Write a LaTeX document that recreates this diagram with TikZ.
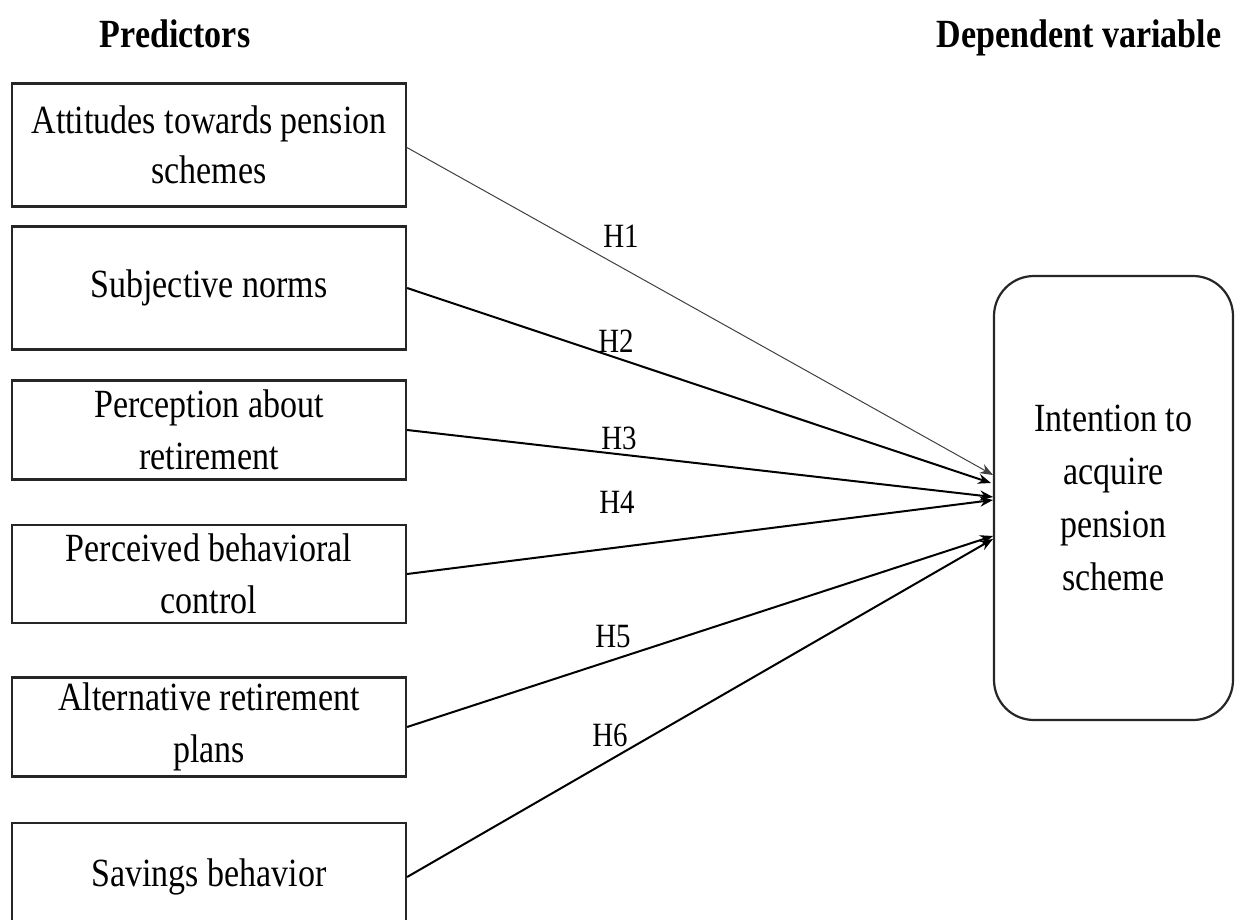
\documentclass[tikz,border=0pt]{standalone}
\usepackage{fontspec}
\setmainfont{Liberation Serif}[FakeStretch=0.85]
\usetikzlibrary{arrows.meta}
\begin{document}
\begin{tikzpicture}[x=1pt,y=-1pt,
  predbox/.style={draw=black!85,line width=2.2pt,minimum width=394pt,text width=390pt,align=flush center,inner sep=0pt,
    font=\fontsize{40}{52}\selectfont},
  depbox/.style={draw=black!85,line width=2.2pt,rounded corners=40pt,minimum width=239pt,minimum height=444pt,
    text width=230pt,align=flush center,inner sep=0pt,font=\fontsize{40}{53}\selectfont},
  heading/.style={font=\fontsize{40}{48}\selectfont\bfseries,inner sep=0pt,anchor=base},
  hlabel/.style={font=\fontsize{34}{36}\selectfont,inner sep=0pt},
  link/.style={line width=2pt,-{Stealth[length=13pt,width=10pt]}},
  thinlink/.style={line width=1pt,draw=black!75,-{Stealth[length=13pt,width=10pt]}}]
\useasboundingbox (0,0) rectangle (1240,920);
\clip (0,0) rectangle (1240,920);
\node[heading] (hp) at (175,48) {Predictors};
\node[heading] (hd) at (1079,48) {Dependent variable};
\node[predbox,minimum height=123pt] (b1) at (209,145) {Attitudes towards pension\\[-2pt]schemes};
\node[predbox,minimum height=123pt] (b2) at (209,288) {\raisebox{-6pt}{Subjective norms}};
\node[predbox,minimum height=99pt] (b3) at (209,430) {Perception about\\retirement};
\node[predbox,minimum height=98pt] (b4) at (209,574) {Perceived behavioral\\control};
\node[predbox,minimum height=99pt] (b5) at (209,727) {Alternative retirement\\plans};
\node[predbox,minimum height=108pt] (b6) at (209,877) {\raisebox{-3pt}{Savings behavior}};
\node[depbox] (dv) at (1113.5,498) {\raisebox{-5pt}{\parbox{230pt}{\centering Intention to\\acquire\\pension\\scheme}}};
\coordinate (e1) at (993,475);
\coordinate (e2) at (991,483);
\coordinate (e3) at (993,497);
\coordinate (e4) at (993,500);
\coordinate (e5) at (993,536);
\coordinate (e6) at (993,539);
\coordinate (s1) at (406,147);
\draw[thinlink] (s1) -- (e1);
\draw[link] (b2.east) -- (e2);
\draw[link] (b3.east) -- (e3);
\draw[link] (b4.east) -- (e4);
\draw[link] (b5.east) -- (e5);
\draw[link] (b6.east) -- (e6);
\node[hlabel] (h1) at (621,236) {H1};
\node[hlabel] (h2) at (616,341) {H2};
\node[hlabel] (h3) at (619,438) {H3};
\node[hlabel] (h4) at (617,502) {H4};
\node[hlabel] (h5) at (613,637) {H5};
\node[hlabel] (h6) at (610,735) {H6};
\end{tikzpicture}
\end{document}
